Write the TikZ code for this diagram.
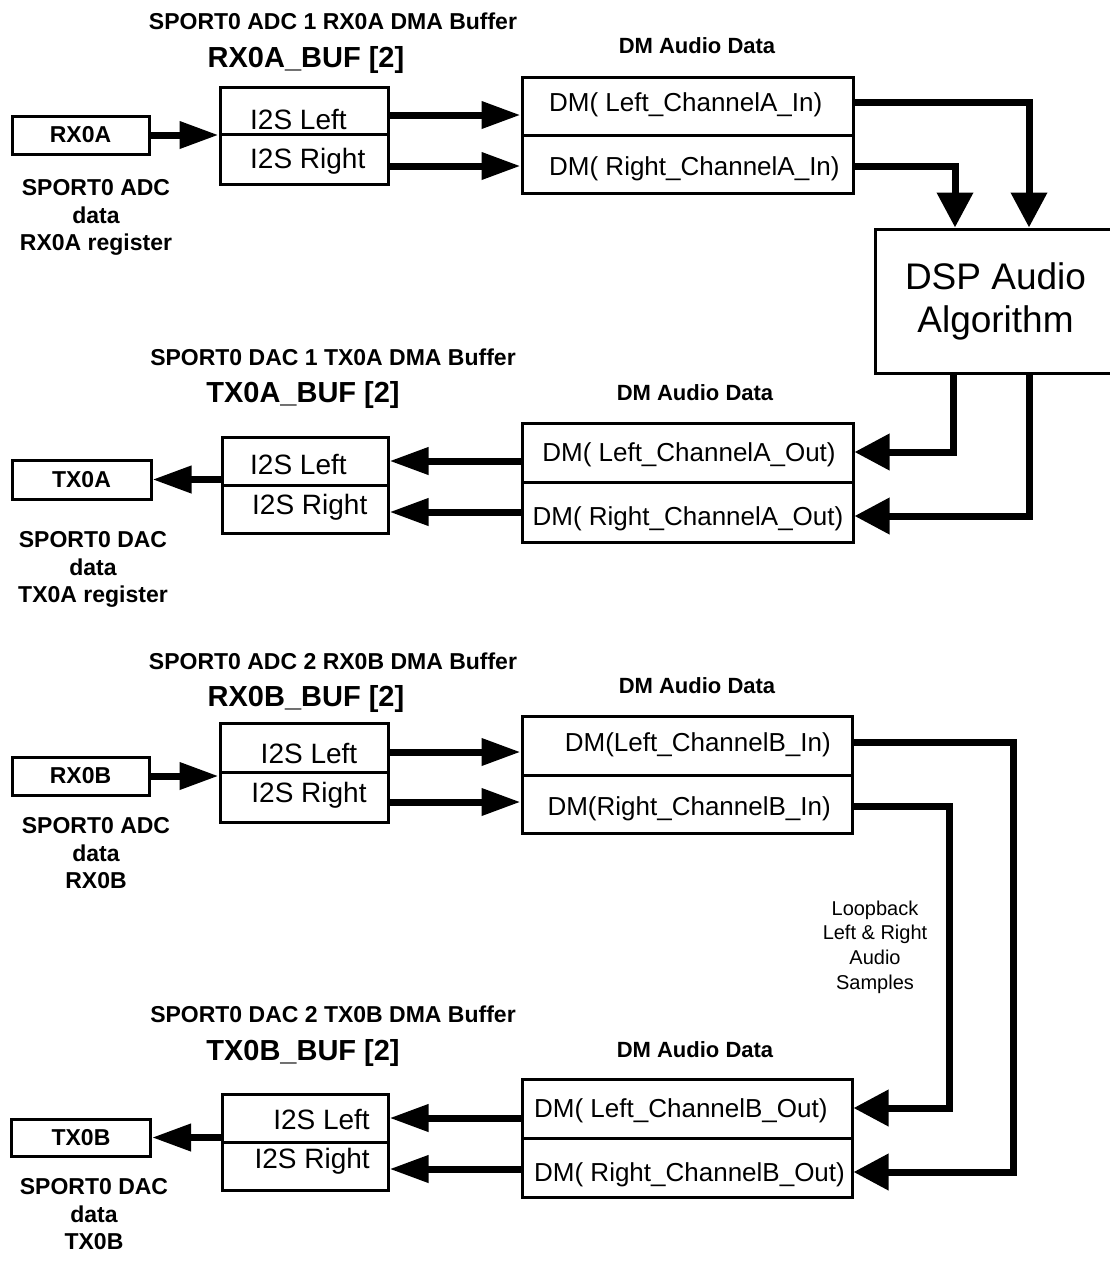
\documentclass[tikz,border=0pt]{standalone}
\usepackage{fontspec}
\setmainfont{Liberation Sans}
\usepackage{tikz}
\usetikzlibrary{arrows.meta}

\begin{document}
\begin{tikzpicture}[x=1pt,y=-1pt]
\tikzset{box/.style={draw,line width=3pt,inner sep=0pt},
ttl/.style={font=\bfseries\fontsize{23}{27}\selectfont,inner sep=0pt,text height=16.5pt,text depth=0pt},
buf/.style={font=\bfseries\fontsize{29}{34}\selectfont,inner sep=0pt,text height=20.8pt,text depth=0pt},
dmd/.style={font=\bfseries\fontsize{22}{26}\selectfont,inner sep=0pt,text height=15.8pt,text depth=0pt},
reg/.style={box,font=\bfseries\fontsize{23}{27}\selectfont,minimum width=137pt,minimum height=38pt},
regnote/.style={font=\bfseries\fontsize{23}{27.5}\selectfont,align=center,inner sep=0pt},
slot/.style={font=\fontsize{28}{33}\selectfont,inner sep=0pt,text height=20pt,text depth=0pt},
dmtxt/.style={font=\fontsize{26}{31}\selectfont,inner sep=0pt,text height=18.6pt,text depth=0pt},
note/.style={font=\fontsize{20}{24.7}\selectfont,align=center,inner sep=0pt},
flow/.style={line width=7pt,-{Triangle[length=39pt,width=26pt]}},
bus/.style={line width=7pt,-{Triangle[length=35pt,width=35pt]}}}
\useasboundingbox (0,0) rectangle (1110,1262);

\node (ttlRA) at (333,21) [ttl] {SPORT0 ADC 1 RX0A DMA Buffer};
\node (bufRA) at (306,57) [buf] {RX0A\_BUF [2]};
\node (dmdRA) at (697,46) [dmd] {DM Audio Data};
\node (rxa) at (80.5,135) [reg] {RX0A};
\node (rxaNote) at (96,217.7) [regnote] {SPORT0 ADC\\data\\RX0A register};
\node (i2sRAl) at (304,110.5) [box,minimum width=168pt,minimum height=47pt] {};
\node (i2sRAr) at (304,159) [box,minimum width=168pt,minimum height=50pt] {};
\node (tI2sRAl) at (250,119) [slot,anchor=west] {I2S Left};
\node (tI2sRAr) at (250,158) [slot,anchor=west] {I2S Right};
\node (dmRAl) at (687.5,106) [box,minimum width=331pt,minimum height=58pt] {};
\node (dmRAr) at (687.5,164) [box,minimum width=331pt,minimum height=58pt] {};
\node (tDmRAl) at (549,102) [dmtxt,anchor=west] {DM( Left\_ChannelA\_In)};
\node (tDmRAr) at (549,166) [dmtxt,anchor=west] {DM( Right\_ChannelA\_In)};
\node (dsp) at (995.5,301) [box,minimum width=241pt,minimum height=144pt,font=\fontsize{37}{43}\selectfont,align=center] {DSP Audio\\Algorithm};

\node (ttlTA) at (333,357) [ttl] {SPORT0 DAC 1 TX0A DMA Buffer};
\node (bufTA) at (303,392) [buf] {TX0A\_BUF [2]};
\node (dmdTA) at (695,393) [dmd] {DM Audio Data};
\node (txa) at (81.5,479.5) [reg,minimum width=139pt,minimum height=39pt] {TX0A};
\node (txaNote) at (93,569.7) [regnote] {SPORT0 DAC\\data\\TX0A register};
\node (i2sTAl) at (305,461) [box,minimum width=166pt,minimum height=48pt] {};
\node (i2sTAr) at (305,509) [box,minimum width=166pt,minimum height=48pt] {};
\node (tI2sTAl) at (250,464) [slot,anchor=west] {I2S Left};
\node (tI2sTAr) at (252,504) [slot,anchor=west] {I2S Right};
\node (dmTAl) at (687.5,452.5) [box,minimum width=331pt,minimum height=59pt] {};
\node (dmTAr) at (687.5,512) [box,minimum width=331pt,minimum height=60pt] {};
\node (tDmTAl) at (689,452) [dmtxt] {DM( Left\_ChannelA\_Out)};
\node (tDmTAr) at (688,516) [dmtxt] {DM( Right\_ChannelA\_Out)};

\node (ttlRB) at (333,661) [ttl] {SPORT0 ADC 2 RX0B DMA Buffer};
\node (bufRB) at (306,696) [buf] {RX0B\_BUF [2]};
\node (dmdRB) at (697,686) [dmd] {DM Audio Data};
\node (rxb) at (80.5,776) [reg] {RX0B};
\node (rxbNote) at (96,853.4) [regnote] {SPORT0 ADC\\data\\RX0B};
\node (i2sRBl) at (304,747.5) [box,minimum width=168pt,minimum height=49pt] {};
\node (i2sRBr) at (304,797) [box,minimum width=168pt,minimum height=50pt] {};
\node (tI2sRBl) at (309,753) [slot] {I2S Left};
\node (tI2sRBr) at (309,792) [slot] {I2S Right};
\node (dmRBl) at (687,745.5) [box,minimum width=330pt,minimum height=59pt] {};
\node (dmRBr) at (687,804) [box,minimum width=330pt,minimum height=58pt] {};
\node (tDmRBl) at (831,742) [dmtxt,anchor=east] {DM(Left\_ChannelB\_In)};
\node (tDmRBr) at (831,806) [dmtxt,anchor=east] {DM(Right\_ChannelB\_In)};
\node (loop) at (875,947) [note] {Loopback\\Left \& Right\\Audio\\Samples};

\node (ttlTB) at (333,1014) [ttl] {SPORT0 DAC 2 TX0B DMA Buffer};
\node (bufTB) at (303,1050) [buf] {TX0B\_BUF [2]};
\node (dmdTB) at (695,1050) [dmd] {DM Audio Data};
\node (txb) at (81,1137.5) [reg,minimum width=139pt,minimum height=37pt] {TX0B};
\node (txbNote) at (94,1214.4) [regnote] {SPORT0 DAC\\data\\TX0B};
\node (i2sTBl) at (305,1118) [box,minimum width=166pt,minimum height=48pt] {};
\node (i2sTBr) at (305,1166) [box,minimum width=166pt,minimum height=48pt] {};
\node (tI2sTBl) at (370,1119) [slot,anchor=east] {I2S Left};
\node (tI2sTBr) at (370,1158) [slot,anchor=east] {I2S Right};
\node (dmTBl) at (687,1108.5) [box,minimum width=330pt,minimum height=59pt] {};
\node (dmTBr) at (687,1167.5) [box,minimum width=330pt,minimum height=59pt] {};
\node (tDmTBl) at (534,1108) [dmtxt,anchor=west] {DM( Left\_ChannelB\_Out)};
\node (tDmTBr) at (534,1172) [dmtxt,anchor=west] {DM( Right\_ChannelB\_Out)};

\path
(rxa.east) edge [flow] (rxa.east -| i2sRAl.west)
([yshift=-4.5pt]i2sRAl.east) edge [flow] ([yshift=-4.5pt]i2sRAl.east -| dmRAl.west)
([yshift=-7pt]i2sRAr.east) edge [flow] ([yshift=-7pt]i2sRAr.east -| dmRAr.west)
(i2sTAl.west |- txa) edge [flow] (txa.east)
(dmTAl.west |- i2sTAl) edge [flow] (i2sTAl.east)
([yshift=-3pt]dmTAr.west |- i2sTAr) edge [flow] ([yshift=-3pt]i2sTAr.east)
(rxb.east) edge [flow] (rxb.east -| i2sRBl.west)
([yshift=-4.5pt]i2sRBl.east) edge [flow] ([yshift=-4.5pt]i2sRBl.east -| dmRBl.west)
([yshift=-5pt]i2sRBr.east) edge [flow] ([yshift=-5pt]i2sRBr.east -| dmRBr.west)
(i2sTBl.west |- txb) edge [flow] (txb.east)
(dmTBl.west |- i2sTBl) edge [flow] (i2sTBl.east)
([yshift=-3pt]dmTBr.west |- i2sTBr) edge [flow] ([yshift=-3pt]i2sTBr.east);

\draw [bus] (dmRAl.east |- tDmRAl) -| ([xshift=33.5pt]dsp.north);
\draw [bus] (dmRAr.east |- tDmRAr) -| ([xshift=-40.5pt]dsp.north);
\draw [bus] ([xshift=-42.5pt]dsp.south) |- (dmTAl.east |- tDmTAl);
\draw [bus] ([xshift=33.5pt]dsp.south) |- (dmTAr.east |- tDmTAr);
\draw [bus] (dmRBl.east |- tDmRBl) -- ++(160,0) |- (dmTBr.east |- tDmTBr);
\draw [bus] (dmRBr.east |- tDmRBr) -- ++(96,0) |- (dmTBl.east |- tDmTBl);
\end{tikzpicture}
\end{document}
